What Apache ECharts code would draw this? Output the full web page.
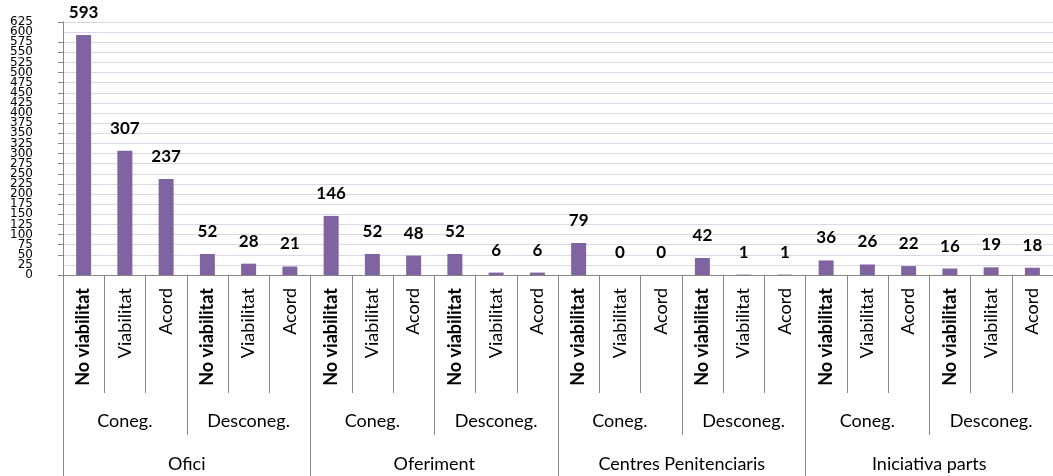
<!DOCTYPE html>
<html>
<head>
<meta charset="utf-8">
<script src="https://cdn.jsdelivr.net/npm/echarts@6/dist/echarts.min.js"></script>
<style>
  html, body { margin: 0; padding: 0; background: #fff; }
  #main { width: 1053px; height: 476px; }
</style>
</head>
<body>
<div id="main"></div>
<script>
// level 1: outcome per bar
const outcomes = [
  'No viabilitat', 'Viabilitat', 'Acord', 'No viabilitat', 'Viabilitat', 'Acord',
  'No viabilitat', 'Viabilitat', 'Acord', 'No viabilitat', 'Viabilitat', 'Acord',
  'No viabilitat', 'Viabilitat', 'Acord', 'No viabilitat', 'Viabilitat', 'Acord',
  'No viabilitat', 'Viabilitat', 'Acord', 'No viabilitat', 'Viabilitat', 'Acord'
];
// level 2
const knowledge = ['Coneg.', 'Desconeg.', 'Coneg.', 'Desconeg.', 'Coneg.', 'Desconeg.', 'Coneg.', 'Desconeg.'];
// level 3
const origins = ['Ofici', 'Oferiment', 'Centres Penitenciaris', 'Iniciativa parts'];

const values = [593, 307, 237, 52, 28, 21, 146, 52, 48, 52, 6, 6, 79, 0, 0, 42, 1, 1, 36, 26, 22, 16, 19, 18];

const yMin = 0;
const yMax = 625;
const yStep = 25;

const axisGray = '#868686';
const labelFont = 'Lato, "Open Sans", sans-serif';

const chart = echarts.init(document.getElementById('main'));

const yLabelStyle = {
  margin: 30,
  color: '#000',
  fontFamily: '"DejaVu Sans"',
  fontSize: 12,
  hideOverlap: false
};

chart.setOption({
  animation: false,
  grid: { left: 63, top: 22, width: 997, bottom: 201, containLabel: false },
  xAxis: [
    {
      type: 'category',
      data: outcomes,
      position: 'bottom',
      axisLine: { show: true, lineStyle: { color: axisGray } },
      axisTick: { show: true, interval: 0, length: 118, lineStyle: { color: axisGray } },
      axisLabel: {
        interval: 0,
        rotate: 90,
        margin: 13,
        color: '#000',
        fontFamily: labelFont,
        fontSize: 18,
        formatter: function (v) {
          return v === 'No viabilitat' ? '{b|' + v + '}' : v;
        },
        rich: {
          b: { fontWeight: 'bold', fontFamily: labelFont, fontSize: 18, color: '#000' }
        }
      }
    },
    {
      type: 'category',
      data: knowledge,
      position: 'bottom',
      axisLine: { show: false },
      axisTick: { show: true, interval: 0, length: 160, lineStyle: { color: axisGray } },
      axisLabel: { interval: 0, margin: 137, color: '#000', fontFamily: labelFont, fontSize: 18 }
    },
    {
      type: 'category',
      data: origins,
      position: 'bottom',
      axisLine: { show: false },
      axisTick: { show: true, interval: 0, length: 201, lineStyle: { color: axisGray } },
      axisLabel: { interval: 0, margin: 180, color: '#000', fontFamily: labelFont, fontSize: 18 }
    }
  ],
  yAxis: [
    {
      type: 'value',
      min: yMin,
      max: yMax,
      interval: yStep,
      axisLine: { show: true, lineStyle: { color: axisGray } },
      axisTick: { show: true, length: 5, lineStyle: { color: axisGray } },
      axisLabel: Object.assign({ showMinLabel: true, showMaxLabel: true }, yLabelStyle),
      splitLine: { lineStyle: { color: '#dcd6e8' } }
    },
    {
      // same scale; only carries the labels next to min and max that the first axis drops
      type: 'value',
      position: 'left',
      min: yMin,
      max: yMax,
      interval: yStep,
      axisLine: { show: false },
      axisTick: { show: false },
      splitLine: { show: false },
      axisLabel: Object.assign({
        showMinLabel: false,
        showMaxLabel: false,
        formatter: function (v) {
          return (v === yMin + yStep || v === yMax - yStep) ? String(v) : '';
        }
      }, yLabelStyle)
    }
  ],
  series: [
    {
      type: 'bar',
      xAxisIndex: 0,
      yAxisIndex: 0,
      data: values,
      barWidth: 15,
      itemStyle: { color: '#8064a2' },
      label: {
        show: true,
        position: 'top',
        distance: 14,
        color: '#000',
        fontFamily: labelFont,
        fontWeight: 'bold',
        fontSize: 17
      }
    }
  ]
});
</script>
</body>
</html>
